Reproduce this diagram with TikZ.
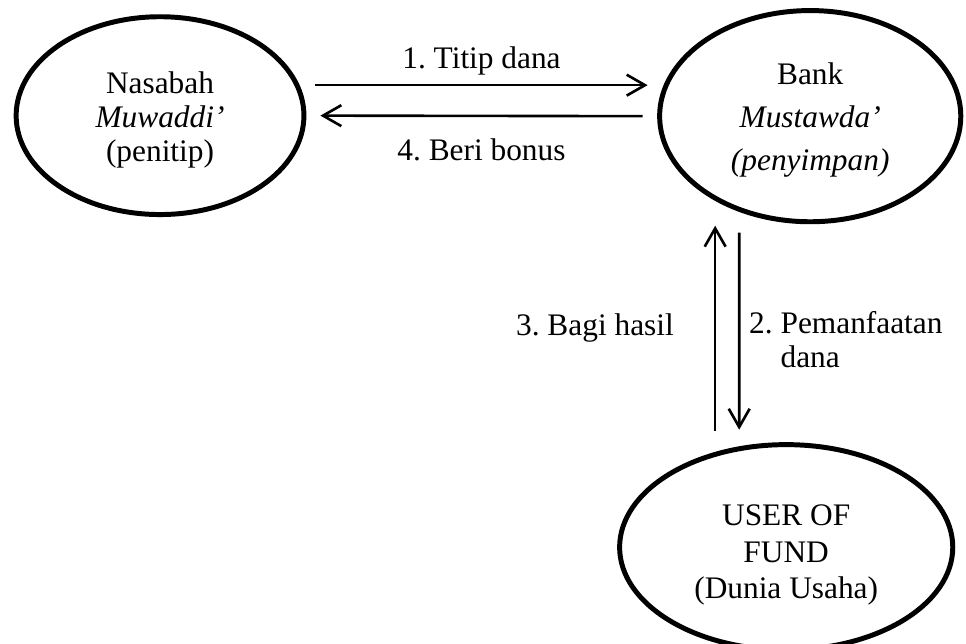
\documentclass[tikz,border=0pt]{standalone}
\usepackage{fontspec}
\setmainfont{Liberation Serif}
\frenchspacing
\usetikzlibrary{arrows.meta,positioning,shapes.geometric}

\begin{document}
\begin{tikzpicture}[font=\fontsize{12}{13}\selectfont,
  pihak/.style={ellipse, draw, line width=1.9pt, inner sep=0pt},
  isi/.style={align=center, yshift=#1},
  alur/.style={-{Straight Barb[length=7pt,width=8pt]}, line width=1pt}]
  \useasboundingbox (0,0) rectangle (12.99,8.65);
  \node[pihak, minimum width=3.87cm, minimum height=2.66cm, label={[isi=-1.5pt]center:Nasabah\\\textit{Muwaddi’}\\(penitip)}] (nasabah) at (2.152,7.095) {};
  \node[pihak, minimum width=4.05cm, minimum height=2.84cm, label={[isi=-1.5pt]center:Bank\\[3.4pt]\textit{Mustawda’}\\[3.4pt]\textit{(penyimpan)}}] (bank) at (10.895,7.088) {};
  \node[pihak, minimum width=4.48cm, minimum height=2.76cm, label={[isi=-3pt]center:USER OF\\[1pt]FUND\\[1pt](Dunia Usaha)}] (user) at (10.572,1.291) {};
  \draw[alur] ([shift={(0.121,0.410)}]nasabah.east) -- node[above] (titip) {1. Titip dana} ([shift={(-0.128,0.417)}]bank.west);
  \draw[alur] ([xshift=-0.196cm]bank.west) -- node[below=5pt] (bonus) {4. Beri bonus} ([xshift=0.188cm]nasabah.east);
  \draw[alur] ([shift={(-0.955,0.155)}]user.north) -- node[left=12pt] (bagi) {3. Bagi hasil} ([shift={(-1.278,-0.020)}]bank.south);
  \draw[alur] ([shift={(-0.955,-0.114)}]bank.south) -- node[right, yshift=-3.3pt, align=left] (manfaat) {2. Pemanfaatan\\\phantom{2. }dana} ([shift={(-0.632,0.168)}]user.north);
\end{tikzpicture}
\end{document}
